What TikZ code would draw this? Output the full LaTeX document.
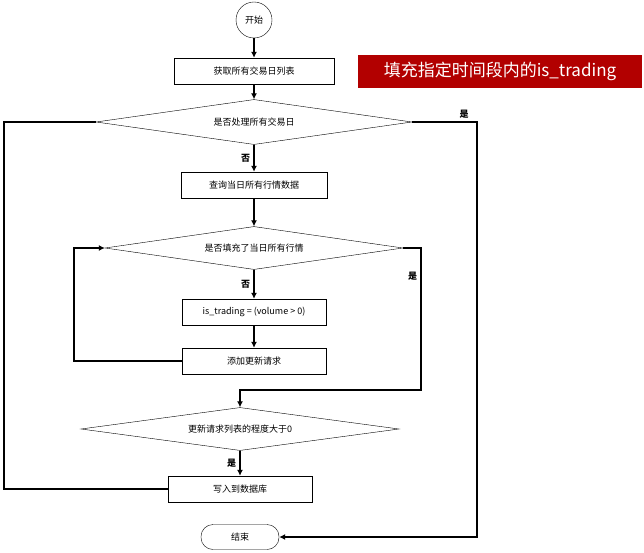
\documentclass[tikz,border=0pt]{standalone}
\usepackage{fontspec}
\setmainfont{Noto Sans CJK SC}
\usetikzlibrary{shapes.geometric,arrows.meta}
\tikzset{
  box/.style={draw, minimum width=144pt, minimum height=26pt, inner sep=1pt, font=\fontsize{9}{10}\selectfont},
  decide/.style={draw, diamond, aspect=7, inner sep=0pt, font=\fontsize{9}{10}\selectfont},
  lbl/.style={font=\fontsize{9}{10}\selectfont\bfseries},
  flow/.style={line width=1.2pt, -{Latex[length=6pt,width=6pt]}},
  link/.style={line width=1.2pt}
}
\begin{document}
\begin{tikzpicture}[x=1pt, y=-1pt]
    \useasboundingbox (0,0) rectangle (644,553);
    %------------Nodes----------
    \node[draw, circle, minimum size=36pt, inner sep=0pt, font=\fontsize{9}{10}\selectfont] (start) at (254,20) {开始};
    \node[box, minimum width=160pt] (days) at (254,71) {获取所有交易日列表};
    \node[fill=red!70!black, text=white, minimum width=284pt, minimum height=33pt, font=\fontsize{17}{18}\selectfont] (title) at (500,71.5) {填充指定时间段内的is\_trading};
    \node[decide, minimum width=316pt, minimum height=45pt] (alldays) at (254,122) {是否处理所有交易日};
    \node[box, minimum width=146pt] (query) at (254,185) {查询当日所有行情数据};
    \node[decide, minimum width=298pt, minimum height=43pt] (allquotes) at (254,248) {是否填充了当日所有行情};
    \node[box] (trading) at (254,312) {is\_trading = (volume > 0)};
    \node[box] (addreq) at (254,361) {添加更新请求};
    \node[decide, minimum width=318pt, minimum height=43pt] (reqlen) at (240,429) {更新请求列表的程度大于0};
    \node[box] (write) at (240,489) {写入到数据库};
    \node[draw, rounded corners=12pt, minimum width=78pt, minimum height=25pt, font=\fontsize{9}{10}\selectfont] (finish) at (240,537) {结束};
    %------------Arrows----------
    \draw[flow] (start) -- (days);
    \draw[flow] (days) -- (alldays);
    \draw[flow] (alldays) -- node[lbl, left] {否} (query);
    \draw[flow] (query) -- (allquotes);
    \draw[flow] (allquotes) -- node[lbl, left] {否} (trading);
    \draw[flow] (trading) -- (addreq);
    \draw[flow] (addreq.west) -- (74,361) -- (74,248) -- (allquotes.west);
    \draw[flow] (allquotes.east) -- (421,248) -- node[lbl, pos=0.2, left] {是} (421,390) -- (240,390) -- (reqlen.north);
    \draw[flow] (reqlen) -- node[lbl, left] {是} (write);
    \draw[link] (write.west) -- (4,489) -- (4,122) -- (alldays.west);
    \draw[flow] (alldays.east) -- node[lbl, above, pos=0.8] {是} (477,122) -- (477,537) -- (finish.east);
\end{tikzpicture}
\end{document}
